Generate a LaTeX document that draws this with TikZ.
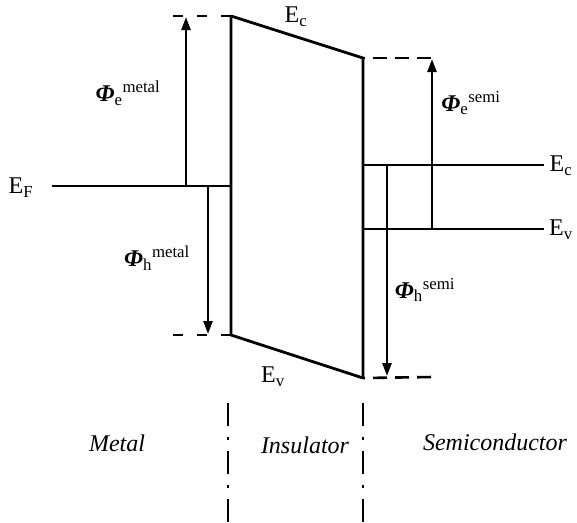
\documentclass[tikz,border=0pt]{standalone}
\usepackage{fontspec}
\setmainfont{Liberation Serif}
\usepackage{tikz}
\usetikzlibrary{arrows.meta}

\tikzset{
  band/.style={line width=2.8pt},
  level/.style={line width=2.6pt},
  gap/.style={line width=2.4pt,-{Triangle[length=13pt,width=9pt]}},
  edge/.style={line width=2.6pt,dash pattern=on 10pt off 14pt},
  border/.style={line width=2.4pt,dash pattern=on 23pt off 11pt on 3pt off 11pt},
  lbl/.style={inner sep=0pt,font=\fontsize{24}{28}\selectfont}
}
\newcommand{\wf}[2]{{\bfseries\itshape Φ}\textsubscript{#1}\textsuperscript{#2}}

\begin{document}
\begin{tikzpicture}[x=1pt,y=-1pt]
  \useasboundingbox (0,0) rectangle (577,522);

  % insulator corners
  \coordinate (IA) at (231,16);
  \coordinate (IB) at (363,58);
  \coordinate (IC) at (363,378);
  \coordinate (ID) at (231,335);

  % insulator band edges
  \draw[band,line join=miter] (IA)--(IB)--(IC);
  \draw[band,line join=miter] (IA)--(ID)--(IC);

  % metal Fermi level
  \coordinate (F0) at (52,186);
  \coordinate (F1) at (231,186);
  \draw[level] (F0)--(F1);

  % semiconductor levels
  \coordinate (C0) at (363,165);
  \coordinate (C1) at (544,165);
  \coordinate (V0) at (363,229);
  \coordinate (V1) at (544,229);
  \draw[level] (C0)--(C1);
  \draw[level] (V0)--(V1);

  % dashed extensions
  \coordinate (DA) at (173,16);
  \coordinate (DD) at (173,335);
  \coordinate (DB) at (433,58);
  \coordinate (DC) at (433,377);
  \draw[edge] (IA)--(DA);
  \draw[edge] (ID)--(DD);
  \draw[edge,dash pattern=on 14pt off 8pt,dash phase=-10pt] (IB)--(DB);
  \draw[edge,dash pattern=on 14pt off 8pt,dash phase=-10pt] (IC)--(DC);

  % barrier arrows
  \draw[gap] (186,186)--(186,17);
  \draw[gap] (208,186)--(208,334);
  \draw[gap] (432,229)--(432,59);
  \draw[gap] (387,165)--(387,376);

  % region borders
  \draw[border] (228,403)--(228,522);
  \draw[border] (363,403)--(363,522);

  % labels
  \node[lbl] (EF) at (21,188) {E\textsubscript{F}};
  \node[lbl] (Ect) at (296,17) {E\textsubscript{c}};
  \node[lbl] (Evb) at (273,377) {E\textsubscript{v}};
  \node[lbl] (Ecr) at (561,166) {E\textsubscript{c}};
  \node[lbl] (Evr) at (561,230) {E\textsubscript{v}};
  \node[lbl] (phem) at (128,93) {\wf{e}{metal}};
  \node[lbl] (phhm) at (157,258) {\wf{h}{metal}};
  \node[lbl] (phes) at (471,103) {\wf{e}{semi}};
  \node[lbl] (phhs) at (425,290) {\wf{h}{semi}};
  \node[lbl,font=\fontsize{24}{28}\selectfont\itshape] (metal) at (117,443) {Metal};
  \node[lbl,font=\fontsize{24}{28}\selectfont\itshape] (ins) at (305,445) {Insulator};
  \node[lbl,font=\fontsize{24}{28}\selectfont\itshape] (semi) at (495,442) {Semiconductor};
\end{tikzpicture}
\end{document}
